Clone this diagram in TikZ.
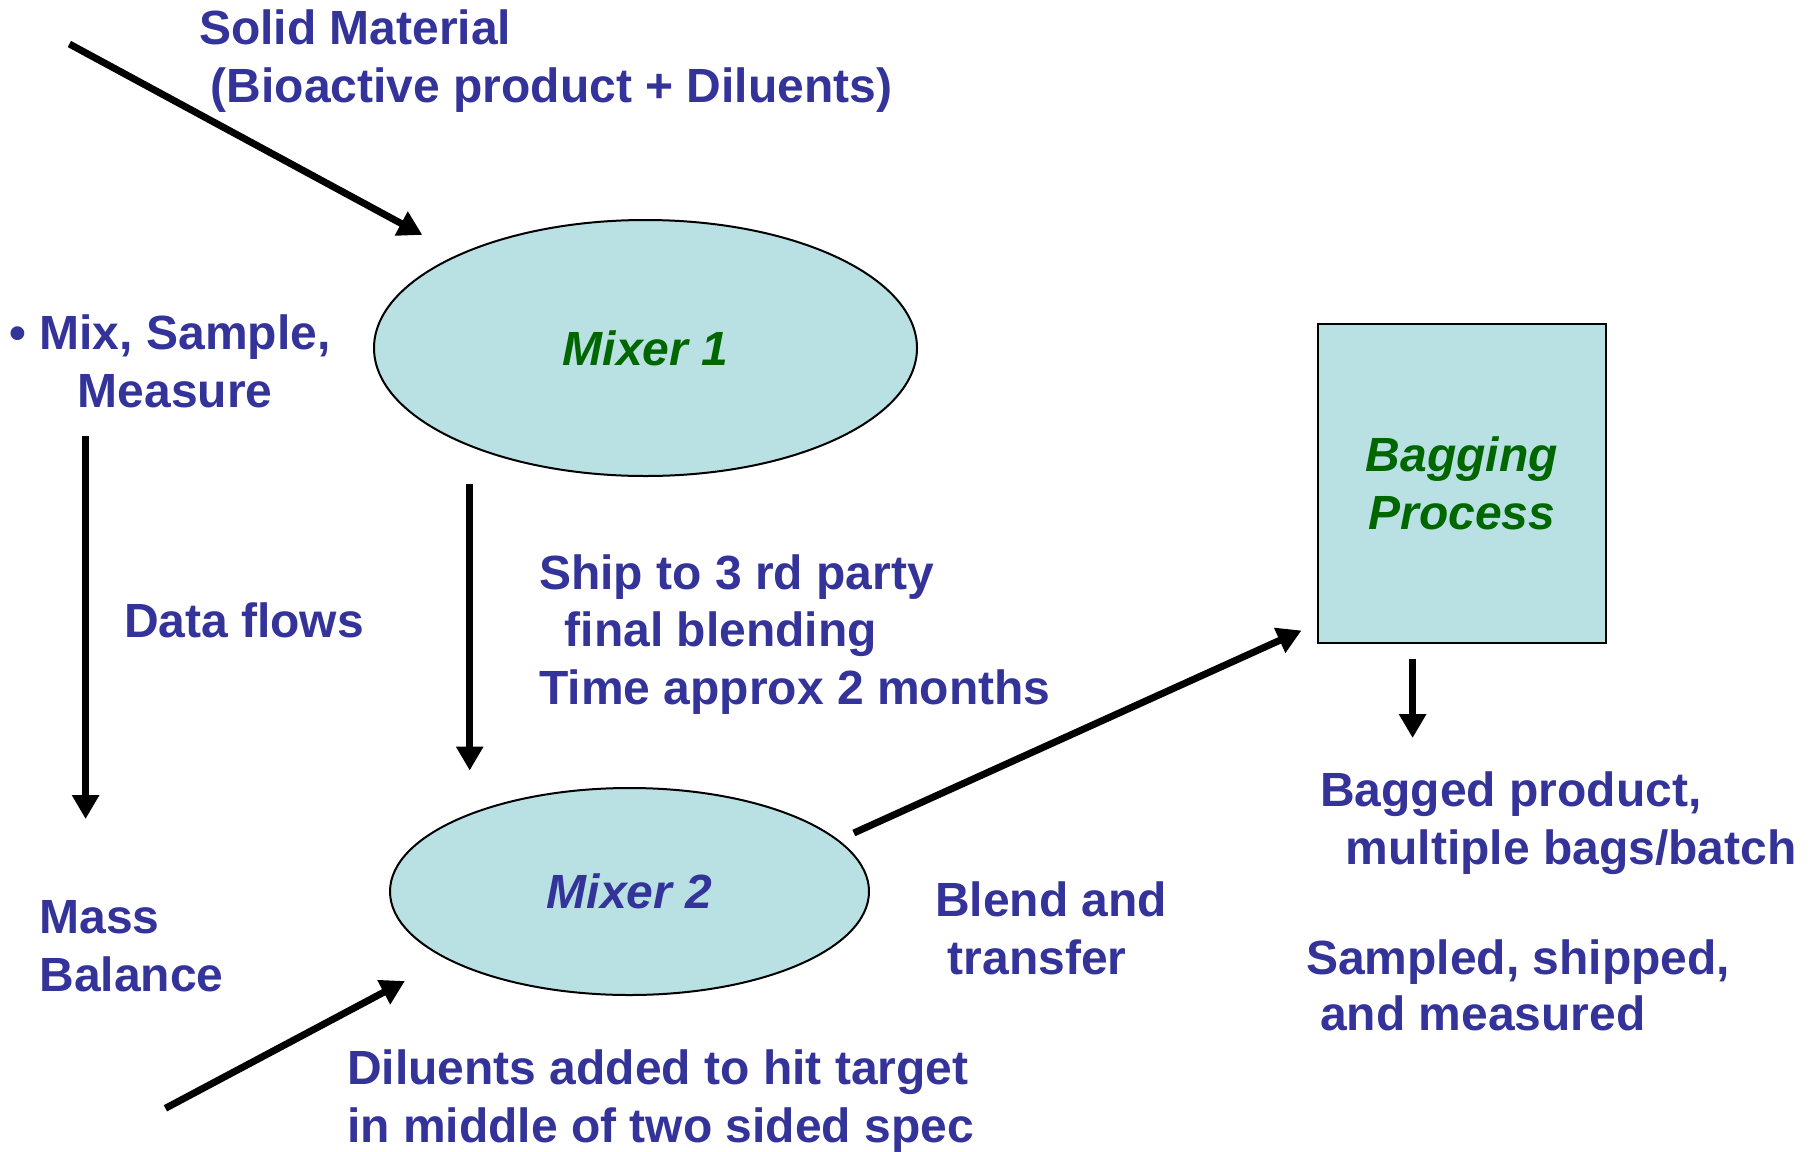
\documentclass[tikz,border=0pt]{standalone}
\usepackage{fontspec}
\setmainfont{Liberation Sans}
\usetikzlibrary{arrows.meta,shapes.geometric}
\definecolor{txtblue}{RGB}{51,51,153}
\definecolor{txtgreen}{RGB}{0,102,0}
\definecolor{fillcyan}{RGB}{185,224,227}
\begin{document}
\begin{tikzpicture}[x=1pt,y=-1pt,
  bigfont/.style={font=\fontsize{48}{58}\selectfont\bfseries},
  lbl/.style={bigfont,anchor=base west,inner sep=0pt,text=txtblue},
  flow/.style={line width=7pt,-{Triangle[length=24pt,width=26pt]}},
  proc/.style={ellipse,draw,line width=2pt,fill=fillcyan,inner sep=0pt,font=\fontsize{48}{58}\selectfont\bfseries\itshape},
  boxproc/.style={rectangle,draw,line width=2pt,fill=fillcyan,inner sep=0pt,align=center,text=txtgreen,font=\fontsize{48}{58}\selectfont\bfseries\itshape}]
\useasboundingbox[fill=white] (0,0) rectangle (1814,1151);

% process nodes
\node[proc,minimum width=543pt,minimum height=256pt,text=txtgreen] (m1) at (645.5,348) {Mixer 1};
\node[proc,minimum width=479pt,minimum height=207pt,text=txtblue] (m2) at (629.5,891.5) {Mixer 2};
\node[boxproc,minimum width=288pt,minimum height=319pt] (bag) at (1461.7,483.6) {Bagging\\Process};

% labels
\node[lbl] (s1) at (199,44) {Solid Material};
\node[lbl] (s2) at (210.6,102) {(Bioactive product + Diluents)};
\node[lbl] (mx1) at (9.3,349.4) {• Mix, Sample,};
\node[lbl] (mx2) at (77.5,407.4) {Measure};
\node[lbl] (df) at (123.8,637.5) {Data flows};
\node[lbl] (mb1) at (39.3,933.6) {Mass};
\node[lbl] (mb2) at (39.3,991.5) {Balance};
\node[lbl] (sh1) at (539,589) {Ship to 3 rd party};
\node[lbl] (sh2) at (564.6,646.7) {final blending};
\node[lbl] (sh3) at (539,704.6) {Time approx 2 months};
\node[lbl] (bt1) at (934.8,916.3) {Blend and};
\node[lbl] (bt2) at (947.5,974) {transfer};
\node[lbl] (bp1) at (1320,806.4) {Bagged product,};
\node[lbl] (bp2) at (1345.5,864.2) {multiple bags/batch};
\node[lbl] (sm1) at (1306,974.1) {Sampled, shipped,};
\node[lbl] (sm2) at (1320,1030.8) {and measured};
\node[lbl] (dl1) at (347,1084) {Diluents added to hit target};
\node[lbl] (dl2) at (347,1142) {in middle of two sided spec};

% connector end points
\coordinate (solidin) at (69.4,44);
\coordinate (solidend) at (422.3,234.9);
\coordinate (m1out) at (469.7,483.6);
\coordinate (m2in) at (469.7,770.5);
\coordinate (dfstart) at (85.6,436);
\coordinate (dfend) at (85.6,819);
\coordinate (dilin) at (165.4,1108.3);
\coordinate (dilend) at (404.9,981);
\coordinate (m2out) at (853.8,833);
\coordinate (bagin) at (1301.5,630.5);
\coordinate (bagout) at (1412.6,659.4);
\coordinate (bagend) at (1412.6,738);

% connectors
\draw[flow] (solidin) -- (solidend);
\draw[flow] (m1out) -- (m2in);
\draw[flow] (dfstart) -- (dfend);
\draw[flow] (dilin) -- (dilend);
\draw[flow] (m2out) -- (bagin);
\draw[flow] (bagout) -- (bagend);
\end{tikzpicture}
\end{document}
